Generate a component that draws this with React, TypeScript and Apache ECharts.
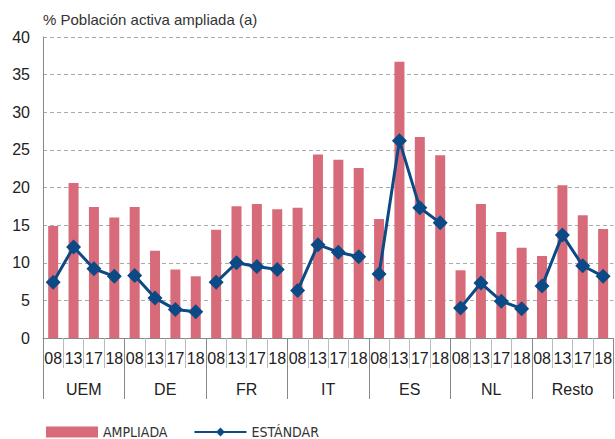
import React, { useEffect, useRef } from "react";
import * as echarts from "echarts";

const years = ["08", "13", "17", "18"];
const groups = ["UEM", "DE", "FR", "IT", "ES", "NL", "Resto"];
const ampliada = [
  14.9, 20.6, 17.4, 16.0,
  17.4, 11.6, 9.1, 8.2,
  14.4, 17.5, 17.8, 17.1,
  17.3, 24.4, 23.7, 22.6,
  15.8, 36.7, 26.7, 24.3,
  9.0, 17.8, 14.1, 12.0,
  10.9, 20.3, 16.3, 14.5,
];
const estandar = [
  7.4, 12.1, 9.2, 8.2,
  8.3, 5.3, 3.8, 3.5,
  7.4, 10.0, 9.5, 9.1,
  6.3, 12.4, 11.4, 10.8,
  8.5, 26.2, 17.3, 15.3,
  4.0, 7.3, 4.9, 3.9,
  6.9, 13.7, 9.6, 8.2,
];
const yTicks = { min: 0, max: 40, interval: 5 };

const BAR = "#d86b7a";
const LINE = "#0c4a86";
const FONT = "'Liberation Sans', Arial, Helvetica, sans-serif";

export default function App() {
  const ref = useRef<HTMLDivElement>(null);
  useEffect(() => {
    if (!ref.current) return;
    const chart = echarts.init(ref.current, null, { renderer: "svg" });
    const cats: string[] = [];
    groups.forEach((g) => years.forEach((y) => cats.push(g + "-" + y)));

    const lineSeries = groups.map((g, gi) => ({
      name: "ESTÁNDAR",
      type: "line",
      xAxisIndex: 0,
      data: estandar.map((v, i) => (Math.floor(i / years.length) === gi ? v : "-")),
      symbol: "diamond",
      symbolSize: 15,
      lineStyle: { color: LINE, width: 3 },
      itemStyle: { color: LINE },
      connectNulls: false,
      z: 3,
    }));

    chart.setOption({
      animation: false,
      textStyle: { fontFamily: FONT },
      grid: { left: 43, right: 0, top: 37, bottom: 101, containLabel: false },
      graphic: [
        {
          type: "text",
          left: 43,
          top: 12,
          style: {
            text: "% Población activa ampliada (a)",
            fontSize: 15,
            fontFamily: FONT,
            fill: "#333",
          },
        },
      ],
      legend: {
        left: 41,
        top: 420,
        itemWidth: 52,
        itemHeight: 11,
        itemGap: 26,
        textStyle: {
          fontSize: 14,
          color: "#333",
          fontFamily: "'Liberation Sans Narrow', 'DejaVu Sans Condensed', Arial, sans-serif",
        },
        data: [
          { name: "AMPLIADA", icon: "rect", itemStyle: { color: BAR } },
          { name: "ESTÁNDAR" },
        ],
      },
      xAxis: [
        {
          type: "category",
          data: cats,
          position: "bottom",
          axisLine: { show: true, lineStyle: { color: "#888", width: 1 } },
          axisTick: { show: true, interval: 0, length: 30, lineStyle: { color: "#bbb" } },
          axisLabel: {
            interval: 0,
            margin: 12,
            fontSize: 16,
            color: "#222",
            fontFamily: FONT,
            formatter: (v: string) => v.split("-")[1],
          },
          splitLine: { show: false },
        },
        {
          type: "category",
          data: groups,
          position: "bottom",
          axisLine: { show: false },
          axisTick: { show: true, interval: 0, length: 61, lineStyle: { color: "#888" } },
          axisLabel: {
            interval: 0,
            margin: 43,
            fontSize: 16,
            color: "#222",
            fontFamily: FONT,
          },
          splitLine: { show: false },
        },
      ],
      yAxis: {
        type: "value",
        min: yTicks.min,
        max: yTicks.max,
        interval: yTicks.interval,
        axisLine: { show: true, lineStyle: { color: "#888" } },
        axisTick: { show: false },
        axisLabel: { fontSize: 16, color: "#222", margin: 13, fontFamily: FONT },
        splitLine: { show: true, lineStyle: { color: "#aaa", type: [4, 3], width: 1 } },
      },
      series: [
        {
          name: "AMPLIADA",
          type: "bar",
          xAxisIndex: 0,
          data: ampliada,
          barWidth: 10,
          itemStyle: { color: BAR },
          z: 2,
        },
        ...lineSeries,
      ],
    });
    return () => chart.dispose();
  }, []);
  return (
    <div
      ref={ref}
      style={{ position: "absolute", left: 0, top: 0, width: 615, height: 439 }}
    />
  );
}
